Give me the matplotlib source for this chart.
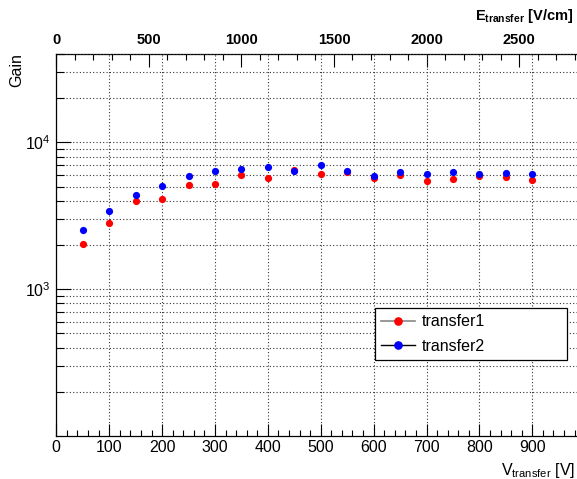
import numpy as np
import matplotlib
matplotlib.use("Agg")
import matplotlib.pyplot as plt
from matplotlib.ticker import FixedLocator, LogLocator, NullFormatter, MultipleLocator, FixedFormatter
from matplotlib.lines import Line2D

plt.rcParams['font.family'] = ['Liberation Sans', 'DejaVu Sans']
plt.rcParams['mathtext.fontset'] = 'custom'
plt.rcParams['mathtext.rm'] = 'Liberation Sans'
plt.rcParams['mathtext.it'] = 'Liberation Sans:italic'
plt.rcParams['mathtext.bf'] = 'Liberation Sans:bold'

# transfer voltage [V] and measured gain
voltage = [50, 100, 150, 200, 250, 300, 350, 400, 450, 500, 550, 600, 650, 700, 750, 800, 850, 900]
gain_transfer1 = [2047, 2803, 3983, 4130, 5140, 5224, 5993, 5681, 6450, 6057,
                  6300, 5681, 5957, 5460, 5594, 5906, 5808, 5567]
gain_transfer2 = [2538, 3383, 4350, 5013, 5906, 6340, 6587, 6753, 6400, 6966,
                  6340, 5862, 6282, 6057, 6282, 6116, 6210, 6057]
v_ticks = [0, 100, 200, 300, 400, 500, 600, 700, 800, 900]
e_ticks = [0, 500, 1000, 1500, 2000, 2500]
gap_cm = 0.35  # E = V / gap

W, H = 577, 479
fig = plt.figure(figsize=(W / 100, H / 100), dpi=100)
# frame runs past the right edge of the picture, like the original
ax = fig.add_axes([56.3 / W, 43 / H, 528.9 / W, 382 / H])

ax.plot(voltage, gain_transfer1, 'o', color='#ff0000', ms=5.2, mew=0, zorder=3)
ax.plot(voltage, gain_transfer2, 'o', color='#0000ff', ms=5.2, mew=0, zorder=4)

ax.set_xlim(0, 1000)
ax.set_yscale('log')
ax.set_ylim(100, 4e4)

# y ticks: only decades labelled, grid on every minor line
ax.yaxis.set_major_locator(FixedLocator([1e3, 1e4]))
ax.yaxis.set_major_formatter(FixedFormatter([r'$\mathregular{10^{3}}$', r'$\mathregular{10^{4}}$']))
ax.yaxis.set_minor_locator(LogLocator(base=10, subs=np.arange(2, 10)))
ax.yaxis.set_minor_formatter(NullFormatter())
ax.xaxis.set_major_locator(FixedLocator(v_ticks))
ax.xaxis.set_minor_locator(MultipleLocator(20))

grid_kw = dict(color='#333333', linestyle=(0, (1, 2)), linewidth=0.8)
ax.grid(True, which='major', axis='x', **grid_kw)
ax.grid(True, which='both', axis='y', **grid_kw)

ax.tick_params(axis='x', which='major', direction='in', length=9, width=0.8, labelsize=11.5, pad=3,
               top=False)
ax.tick_params(axis='x', which='minor', direction='in', length=4, width=0.8, top=False)
ax.tick_params(axis='y', which='major', direction='in', length=11, width=0.8, labelsize=11.5, pad=4)
ax.tick_params(axis='y', which='minor', direction='in', length=6, width=0.8)
for s in ax.spines.values():
    s.set_linewidth(0.9)
ax.spines['top'].set_visible(False)

# top axis in field units
top = ax.secondary_xaxis('top', functions=(lambda v: v / gap_cm, lambda e: e * gap_cm))
top.xaxis.set_major_locator(FixedLocator(e_ticks))
top.xaxis.set_minor_locator(MultipleLocator(100))
top.tick_params(axis='x', which='major', direction='in', length=9, width=0.8, labelsize=10.5, pad=5)
top.tick_params(axis='x', which='minor', direction='in', length=4, width=0.8)
for lab in top.get_xticklabels():
    lab.set_fontweight('bold')
top.spines['top'].set_linewidth(0.9)

# axis titles
fig.text(16.7 / W, 1 - 53 / H, 'Gain', rotation=90, ha='center', va='top', fontsize=11.5)
fig.text(575 / W, 1 - 475 / H, r'V$_{\mathregular{transfer}}$ [V]', ha='right', va='baseline',
         fontsize=11.5)
fig.text(573 / W, 1 - 20 / H, r'$\mathbf{E_{transfer}}$ [V/cm]', ha='right', va='baseline',
         fontsize=10.5, fontweight='bold')

# legend box
handles = [Line2D([], [], color='#888888', lw=1.2, marker='o', ms=5.2, mfc='#ff0000', mec='#ff0000'),
           Line2D([], [], color='black', lw=1.0, marker='o', ms=5.2, mfc='#0000ff', mec='#0000ff')]
leg = fig.legend(handles, ['transfer1', 'transfer2'], loc='upper left',
                 bbox_to_anchor=(375 / W, 1 - 363 / H, 192 / W, 55 / H), mode='expand',
                 borderaxespad=0, fancybox=False, framealpha=1, edgecolor='black',
                 fontsize=11.5, numpoints=1, handlelength=2.1, handletextpad=0.45,
                 borderpad=0.4, labelspacing=0.6)
leg.get_frame().set_linewidth(0.9)

fig.savefig('out.png', dpi=100)
